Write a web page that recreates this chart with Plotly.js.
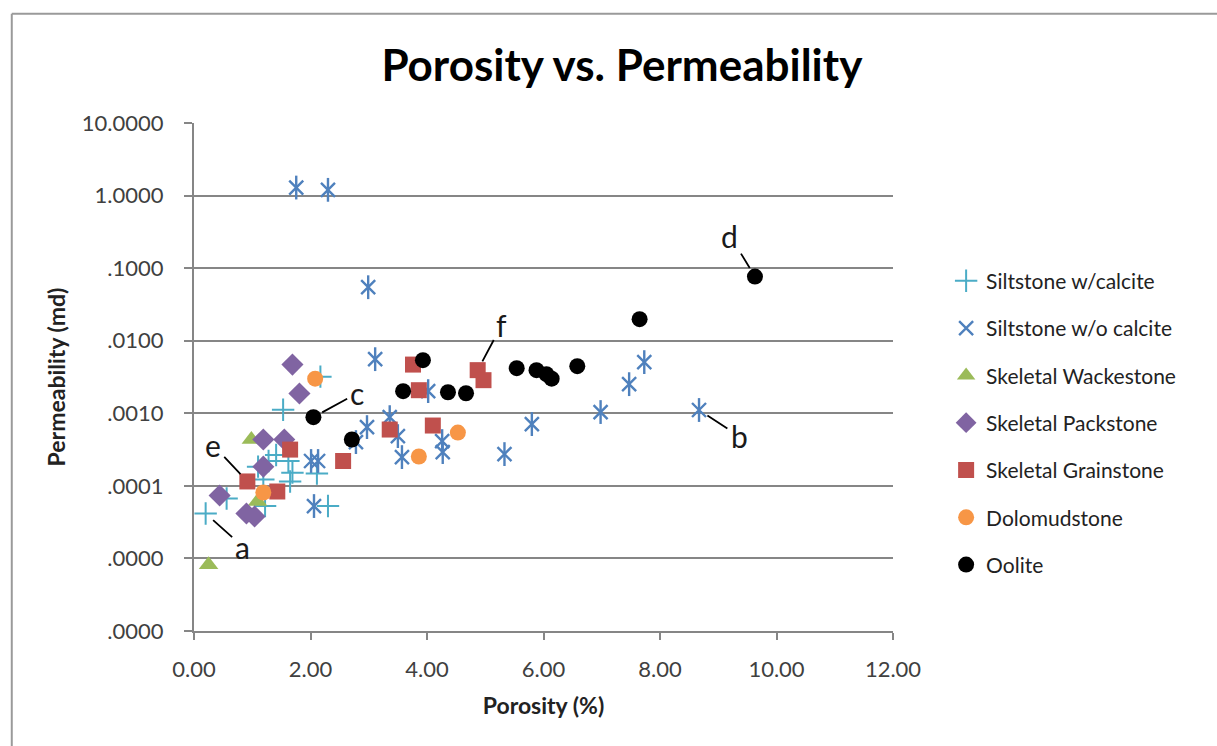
<!DOCTYPE html>
<html>
<head>
<meta charset="utf-8">
<script src="https://cdn.plot.ly/plotly-3.0.1.min.js"></script>
<style>html,body{margin:0;padding:0;background:#fff;}#chart{width:1217px;height:746px;}</style>
</head>
<body>
<div id="chart"></div>
<script>
// ---- data (porosity %, permeability md) ----
const siltCalX = [0.20, 0.56, 1.10, 1.28, 1.41, 1.62, 1.69, 1.65, 1.19, 1.22, 2.11, 2.30, 1.53, 2.17];
const siltCalY = [4.16e-5, 6.68e-5, 1.84e-4, 2.2e-4, 2.66e-4, 2.2e-4, 1.52e-4, 1.15e-4, 1.22e-4, 5.27e-5, 1.48e-4, 5.27e-5, 1.12e-3, 3.2e-3];

const siltNoX = [1.755, 2.30, 2.99, 3.11, 4.02, 2.97, 3.36, 3.50, 4.26, 4.27, 3.57, 5.33, 5.80, 6.98, 7.47, 7.73, 8.67, 2.78, 2.01, 2.13, 2.06];
const siltNoY = [1.29, 1.20, 0.0546, 0.00557, 0.00202, 0.000645, 0.000885, 0.000485, 0.000414, 0.000292, 0.000249, 0.000274, 0.00071, 0.00104, 0.00252, 0.00507, 0.00111, 0.000401, 0.00022, 0.00022, 0.0000527];

const wackeX = [0.25, 0.985, 1.09];
const wackeY = [8.2e-6, 4.35e-4, 6.1e-5];

const packX = [1.69, 1.81, 1.19, 1.55, 1.19, 0.44, 0.90, 1.04];
const packY = [4.69e-3, 1.87e-3, 4.35e-4, 4.35e-4, 1.84e-4, 7.35e-5, 4.16e-5, 3.79e-5];

const grainX = [0.916, 1.65, 1.43, 2.56, 3.36, 4.10, 3.76, 3.86, 4.87, 4.97];
const grainY = [1.15e-4, 3.16e-4, 8.36e-5, 2.2e-4, 5.97e-4, 6.78e-4, 4.69e-3, 2.08e-3, 3.93e-3, 2.86e-3];

const doloX = [2.08, 1.19, 4.53, 3.86];
const doloY = [3.0e-3, 8.1e-5, 5.42e-4, 2.54e-4];

const ooliteX = [2.05, 2.71, 3.59, 3.93, 4.36, 4.67, 5.54, 5.88, 6.05, 6.14, 6.58, 7.65, 9.63];
const ooliteY = [8.85e-4, 4.35e-4, 2.02e-3, 5.4e-3, 1.95e-3, 1.89e-3, 4.18e-3, 3.93e-3, 3.46e-3, 3.0e-3, 4.46e-3, 0.0198, 0.0766];

const seriesNames = ["Siltstone w/calcite", "Siltstone w/o calcite", "Skeletal Wackestone", "Skeletal Packstone", "Skeletal Grainstone", "Dolomudstone", "Oolite"];

const yTickVals = [1e-6, 1e-5, 1e-4, 1e-3, 1e-2, 1e-1, 1, 10];
const yTickText = [".0000", ".0000", ".0001", ".0010", ".0100", ".1000", "1.0000", "10.0000"];
const xTickVals = [0, 2, 4, 6, 8, 10, 12];
const xTickText = ["0.00", "2.00", "4.00", "6.00", "8.00", "10.00", "12.00"];

// labelled points: [label, series x, series y, index, text offset x, text offset y]
const labelled = [
  ["a", siltCalX, siltCalY, 0, 37, 33],
  ["b", siltNoX, siltNoY, 16, 40, 26],
  ["c", ooliteX, ooliteY, 0, 44, -24],
  ["d", ooliteX, ooliteY, 12, -25, -41],
  ["e", grainX, grainY, 0, -34, -36],
  ["f", grainX, grainY, 8, 24, -45]
];

const FONT = "Lato, Carlito, Calibri, 'Open Sans', sans-serif";

function tr(i, xs, ys, marker, showlegend) {
  return {type: "scatter", mode: "markers", name: seriesNames[i], x: xs, y: ys,
          marker: marker, legendgroup: "g" + i, showlegend: showlegend !== false, hoverinfo: "x+y"};
}

const traces = [
  tr(0, siltCalX, siltCalY, {symbol: "cross-thin-open", size: 16, color: "#4BACC6", line: {color: "#4BACC6", width: 2}}),
  tr(1, siltNoX, siltNoY, {symbol: "x-thin-open", size: 14, color: "#4F81BD", line: {color: "#4F81BD", width: 2.4}}),
  tr(1, siltNoX, siltNoY, {symbol: "line-ns-open", size: 17, color: "#4F81BD", line: {color: "#4F81BD", width: 2.4}}, false),
  tr(2, wackeX, wackeY, {symbol: "triangle-up", size: 17, color: "#9BBB59", line: {width: 0}}),
  tr(3, packX, packY, {symbol: "diamond", size: 17, color: "#8064A2", line: {width: 0}}),
  tr(4, grainX, grainY, {symbol: "square", size: 16, color: "#C0504D", line: {width: 0}}),
  tr(5, doloX, doloY, {symbol: "circle", size: 16, color: "#F79646", line: {width: 0}}),
  tr(6, ooliteX, ooliteY, {symbol: "circle", size: 16, color: "#000000", line: {width: 0}})
];

const annotations = labelled.map(l => ({
  x: l[1][l[3]], y: Math.log10(l[2][l[3]]), xref: "x", yref: "y",
  text: l[0], showarrow: true, arrowhead: 0, arrowwidth: 1.8, arrowcolor: "#000",
  ax: l[4], ay: l[5], standoff: 10, startstandoff: 2,
  font: {family: FONT, size: 30, color: "#1a1a1a"}
}));

const layout = {
  width: 1217, height: 746,
  margin: {l: 193.5, r: 323.5, t: 123.3, b: 114.5, pad: 0},
  paper_bgcolor: "#ffffff", plot_bgcolor: "#ffffff",
  font: {family: FONT, color: "#404040", size: 18},
  title: {text: "<b>Porosity vs. Permeability</b>", x: 0.511, xref: "container", xanchor: "center",
          y: 0.912, yref: "container", yanchor: "middle", font: {family: FONT, size: 44, color: "#000"}},
  xaxis: {range: [0, 12], tickvals: xTickVals, ticktext: xTickText, showgrid: false, zeroline: false,
          showline: true, linecolor: "#868686", linewidth: 2, ticks: "outside", ticklen: 7, tickwidth: 2,
          tickcolor: "#868686", tickfont: {family: FONT, size: 22, color: "#404040"}, ticklabelstandoff: 11,
          title: {text: "<b>Porosity (%)</b>", standoff: 16, font: {family: FONT, size: 23, color: "#222"}}},
  yaxis: {type: "log", range: [-6, 1], tickvals: yTickVals, ticktext: yTickText, showgrid: true,
          gridcolor: "#868686", gridwidth: 2, zeroline: false, showline: true, linecolor: "#868686", linewidth: 2,
          ticks: "outside", ticklen: 8, tickwidth: 2, tickcolor: "#868686", ticklabelstandoff: 16,
          tickfont: {family: FONT, size: 22, color: "#404040"},
          title: {text: "<b>Permeability (md)</b>", standoff: 10, font: {family: FONT, size: 23, color: "#222"}}},
  legend: {x: 1.076, xanchor: "left", y: 0.729, yanchor: "top", traceorder: "grouped", tracegroupgap: 17,
           font: {family: FONT, size: 21, color: "#222"}, bgcolor: "rgba(0,0,0,0)", itemsizing: "trace"},
  showlegend: true,
  annotations: annotations,
  shapes: [
    {type: "line", xref: "paper", yref: "paper", x0: -0.2607, x1: 1.5, y0: 1.2151, y1: 1.2151, line: {color: "#9a9a9a", width: 2}},
    {type: "line", xref: "paper", yref: "paper", x0: -0.2607, x1: -0.2607, y0: 1.2151, y1: -0.3, line: {color: "#9a9a9a", width: 2}}
  ]
};

Plotly.newPlot("chart", traces, layout, {displayModeBar: false, staticPlot: true});
</script>
</body>
</html>
